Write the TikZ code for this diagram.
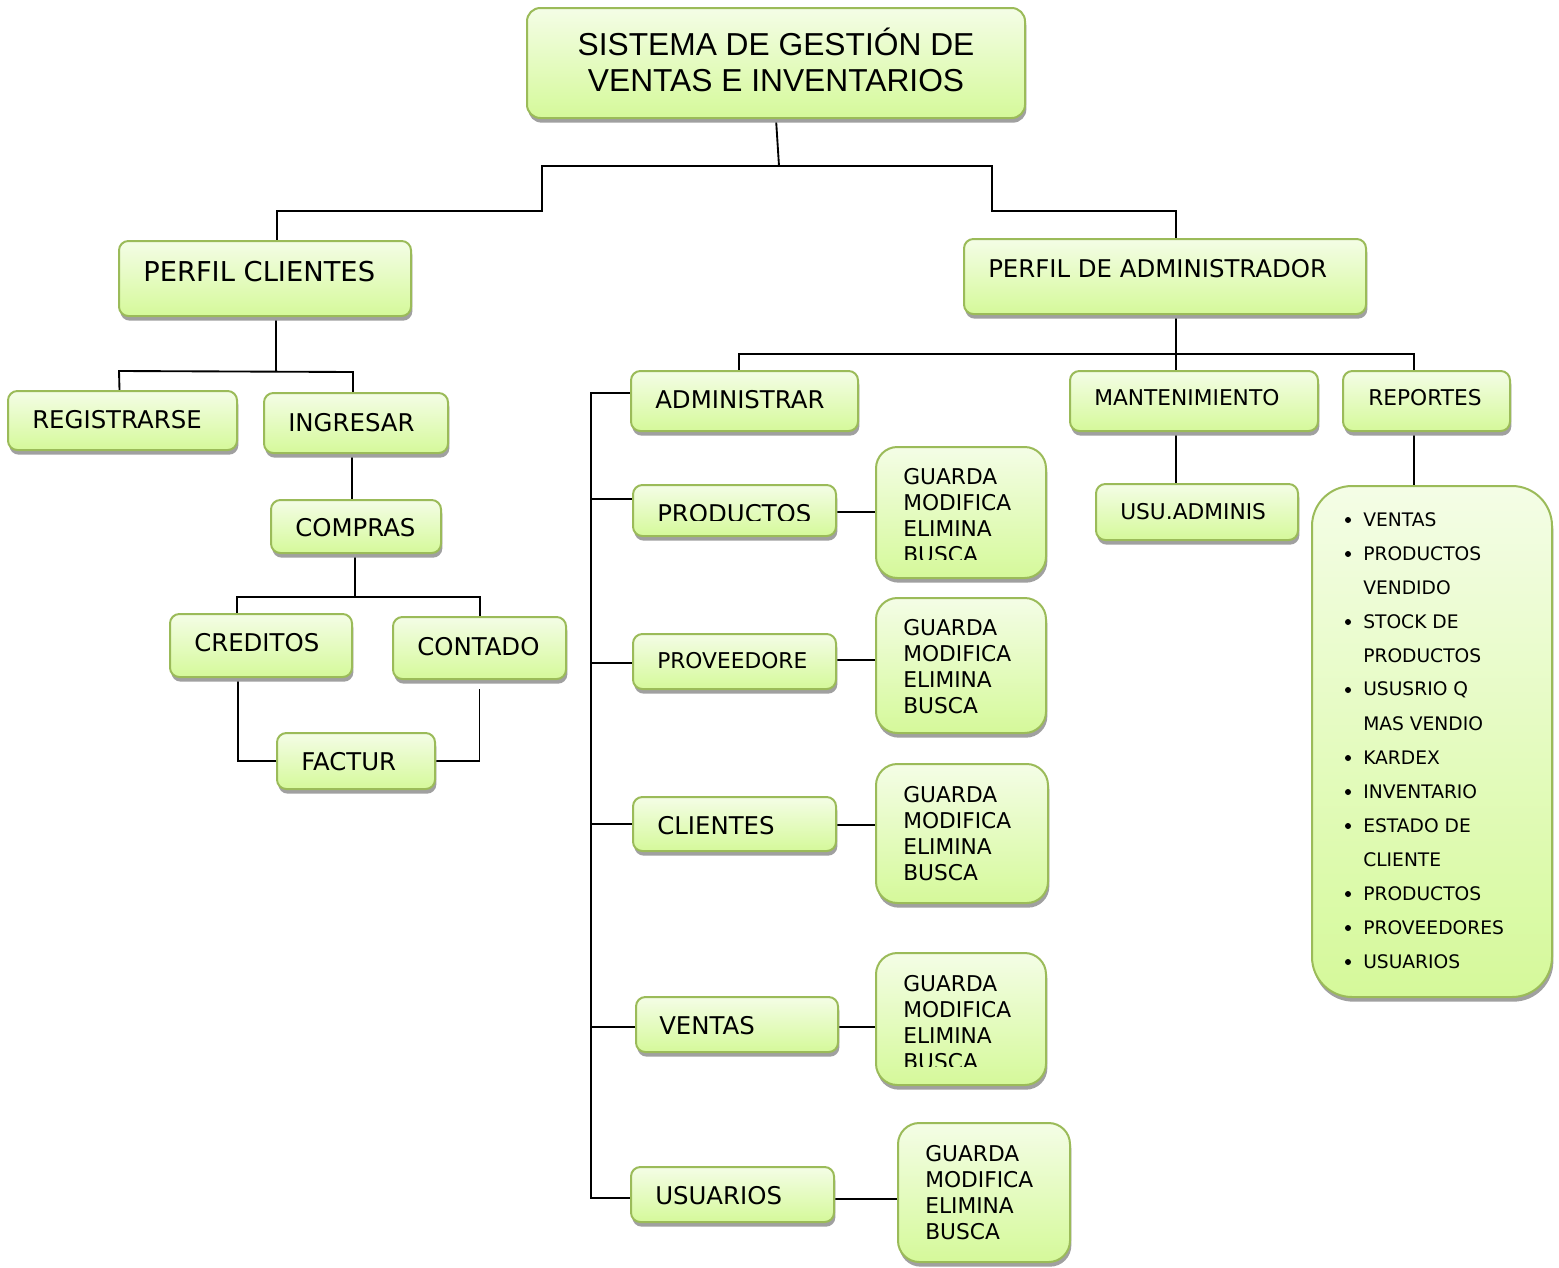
\documentclass[tikz,border=0pt]{standalone}
\usepackage{fontspec}
\setmainfont{DejaVu Sans}
\newfontfamily\titlefont{Liberation Sans}
\usetikzlibrary{shadows,calc,backgrounds}

\definecolor{boxline}{HTML}{9BBB59}
\definecolor{boxtop}{HTML}{F4FDE6}
\definecolor{boxbot}{HTML}{D5F99A}
\definecolor{boxshade}{HTML}{A0A0A0}

\tikzset{
  box/.style={draw=boxline, line width=1.5pt, top color=boxtop, bottom color=boxbot,
    inner sep=0pt,
    drop shadow={shadow xshift=1pt, shadow yshift=-3.5pt, fill=boxshade, opacity=1}},
  lbl/.style={anchor=west, inner sep=0pt, text=black},
  link/.style={line width=1.4pt, black},
  heavylink/.style={line width=2pt, black},
}

% \boxat{name}{x1}{y1}{x2}{y2}{corner radius}
\newcommand\boxat[6]{%
  \node[box, rounded corners=#6,
        minimum width={(#4-#2)*0.75pt}, minimum height={(#5-#3)*0.75pt}]
        (#1) at ({(#2+#4)/2},{(#3+#5)/2}) {};}

\newcommand\fBig{\fontsize{18.3pt}{22pt}\selectfont}
\newcommand\fHead{\fontsize{20.5pt}{24pt}\selectfont}
\newcommand\fMid{\fontsize{16.3pt}{19.5pt}\selectfont}
\newcommand\fList{\fontsize{14pt}{17pt}\selectfont}

% four action lines inside an options box
\newcommand\ops[3]{%
  \node[lbl] (#1a) at (#2,#3) {\fMid GUARDA};
  \node[lbl] (#1b) at (#2,#3+26) {\fMid MODIFICA};
  \node[lbl] (#1c) at (#2,#3+52) {\fMid ELIMINA};
  \node[lbl] (#1d) at (#2,#3+78) {\fMid BUSCA};}

\begin{document}
\begin{tikzpicture}[x=0.75pt,y=-0.75pt]
\useasboundingbox (0,0) rectangle (1559,1267);

% ---------- boxes ----------
\boxat{title}{527}{8}{1025}{118}{10pt}
\boxat{pc}{119}{241}{411}{316}{7pt}
\boxat{pa}{964}{239}{1366}{314}{7pt}
\boxat{reg}{8}{391}{237}{450}{7pt}
\boxat{ing}{264}{393}{448}{453}{7pt}
\boxat{com}{271}{500}{441}{553}{7pt}
\boxat{cre}{170}{614}{352}{677}{7pt}
\boxat{con}{393}{617}{566}{679}{7pt}
\boxat{fac}{277}{733}{435}{789}{7pt}
\boxat{adm}{631}{371}{858}{431}{7pt}
\boxat{man}{1070}{371}{1318}{431}{7pt}
\boxat{rep}{1343}{371}{1510}{431}{7pt}
\boxat{usa}{1096}{484}{1298}{540}{7pt}
\boxat{pro}{633}{485}{836}{536}{7pt}
\boxat{prv}{633}{634}{836}{689}{7pt}
\boxat{cli}{633}{797}{836}{851}{7pt}
\boxat{ven}{636}{997}{838}{1052}{7pt}
\boxat{usu}{631}{1167}{834}{1222}{7pt}
\boxat{op1}{876}{447}{1046}{578}{16pt}
\boxat{op2}{876}{598}{1046}{733}{16pt}
\boxat{op3}{876}{764}{1048}{903}{16pt}
\boxat{op4}{876}{953}{1046}{1085}{16pt}
\boxat{op5}{898}{1123}{1070}{1262}{16pt}
\boxat{lst}{1312}{486}{1552}{997}{30pt}

% ---------- connectors ----------
\begin{pgfonlayer}{background}
  \coordinate (jt) at (779,166);
  \draw[link] (title.south) -- (jt);
  \draw[link] ($(pc.north)+(12,0)$) -- (277,211) -| (542,166) -| (992,211)
              -| ($(pa.north)+(11,0)$);
  % client side
  \draw[link] ($(pc.south)+(11,0)$) -- (276,371);
  \draw[link] ($(reg.north)+(-3,0)$) -- (119,371) -- (353,372) -- ($(ing.north)+(-3,0)$);
  \draw[link] ($(ing.south)+(-4,0)$) -- ($(com.north)+(-4,0)$);
  \draw[heavylink] ($(com.south)+(-1,0)$) -- (355,597);
  \draw[link] ($(cre.north)+(-24,0)$) -- (237,597) -| ($(con.north)+(0.5,0)$);
  \draw[link] ($(cre.south)+(-23,0)$) |- (fac.west);
  \draw[link] ($(con.south)+(0,9)$) |- (fac.east);
  % administrator side
  \draw[heavylink] ($(pa.south)+(11,0)$) -- (1176,354);
  \draw[link] (1176,354) -- ($(man.north)+(-18,0)$);
  \draw[link] ($(adm.north)+(-5.5,0)$) -- (739,354) -- (1414,354) -- ($(rep.north)+(-12.5,0)$);
  \draw[link] ($(man.south)+(-18,0)$) -- ($(usa.north)+(-21,0)$);
  \draw[link] ($(rep.south)+(-12.5,0)$) -- ($(lst.north)+(-18,0)$);
  % bus on the left of the administration items
  \coordinate (bt) at (591,393);
  \coordinate (bb) at (591,1198);
  \draw[link] (adm.west |- bt) -- (bt) -- (bb) -- (usu.west |- bb);
  \draw[link] (591,499) -- (pro.west |- 0,499);
  \draw[link] (591,663) -- (prv.west |- 0,663);
  \draw[link] (591,824) -- (cli.west |- 0,824);
  \draw[link] (591,1027) -- (ven.west |- 0,1027);
  % items to their option boxes
  \draw[link] (pro.east |- 0,512) -- (op1.west |- 0,512);
  \draw[link] (prv.east |- 0,660) -- (op2.west |- 0,660);
  \draw[link] (cli.east |- 0,825) -- (op3.west |- 0,825);
  \draw[link] (ven.east |- 0,1027) -- (op4.west |- 0,1027);
  \draw[link] (usu.east |- 0,1199) -- (op5.west |- 0,1199);
\end{pgfonlayer}

% ---------- texts ----------
\node[inner sep=0pt, align=center, font=\titlefont\fontsize{23.8pt}{27pt}\selectfont]
  (titletext) at (776,60) {SISTEMA DE GESTIÓN DE\\VENTAS E INVENTARIOS};
\node[lbl] (pct) at (143,272) {\fHead PERFIL CLIENTES};
\node[lbl] (pat) at (988,269) {\fBig PERFIL DE ADMINISTRADOR};
\node[lbl] (regt) at (32,420) {\fBig REGISTRARSE};
\node[lbl] (ingt) at (288,423) {\fBig INGRESAR};
\node[lbl] (comt) at (295,528) {\fBig COMPRAS};
\node[lbl] (cret) at (194,643) {\fBig CREDITOS};
\node[lbl] (cont) at (417,647) {\fBig CONTADO};
\node[lbl] (fact) at (301,762) {\fBig FACTUR};
\node[lbl] (admt) at (655,400) {\fBig ADMINISTRAR};
\node[lbl] (mant) at (1094,398) {\fMid MANTENIMIENTO};
\node[lbl] (rept) at (1368,398) {\fMid REPORTES};
\node[lbl] (usat) at (1120,512) {\fMid USU.ADMINIS};
\begin{scope}
  \clip (600,470) rectangle (850,520);
  \node[lbl] (prot) at (657,514) {\fBig PRODUCTOS};
\end{scope}
\node[lbl] (prvt) at (657,661) {\fMid PROVEEDORE};
\node[lbl] (clit) at (657,826) {\fBig CLIENTES};
\node[lbl] (vent) at (659,1026) {\fBig VENTAS};
\node[lbl] (usut) at (655,1196) {\fBig USUARIOS};

\begin{scope}
  \clip (880,455) rectangle (1040,559);
  \ops{o1}{903}{477}
\end{scope}
\ops{o2}{903}{628}
\ops{o3}{903}{795}
\begin{scope}
  \clip (880,960) rectangle (1040,1066);
  \ops{o4}{903}{984}
\end{scope}
\ops{o5}{925}{1154}

% report list
\foreach \t [count=\i from 0] in {VENTAS,PRODUCTOS,VENDIDO,STOCK DE,PRODUCTOS,USUSRIO Q,MAS VENDIO,KARDEX,INVENTARIO,ESTADO DE,CLIENTE,PRODUCTOS,PROVEEDORES,USUARIOS}
  \node[lbl] (li\i) at (1363,520+34*\i) {\fList \t};
\foreach \i in {0,1,3,5,7,8,9,11,12,13}
  \fill (1348,520+34*\i) circle[radius=3];

\end{tikzpicture}
\end{document}
